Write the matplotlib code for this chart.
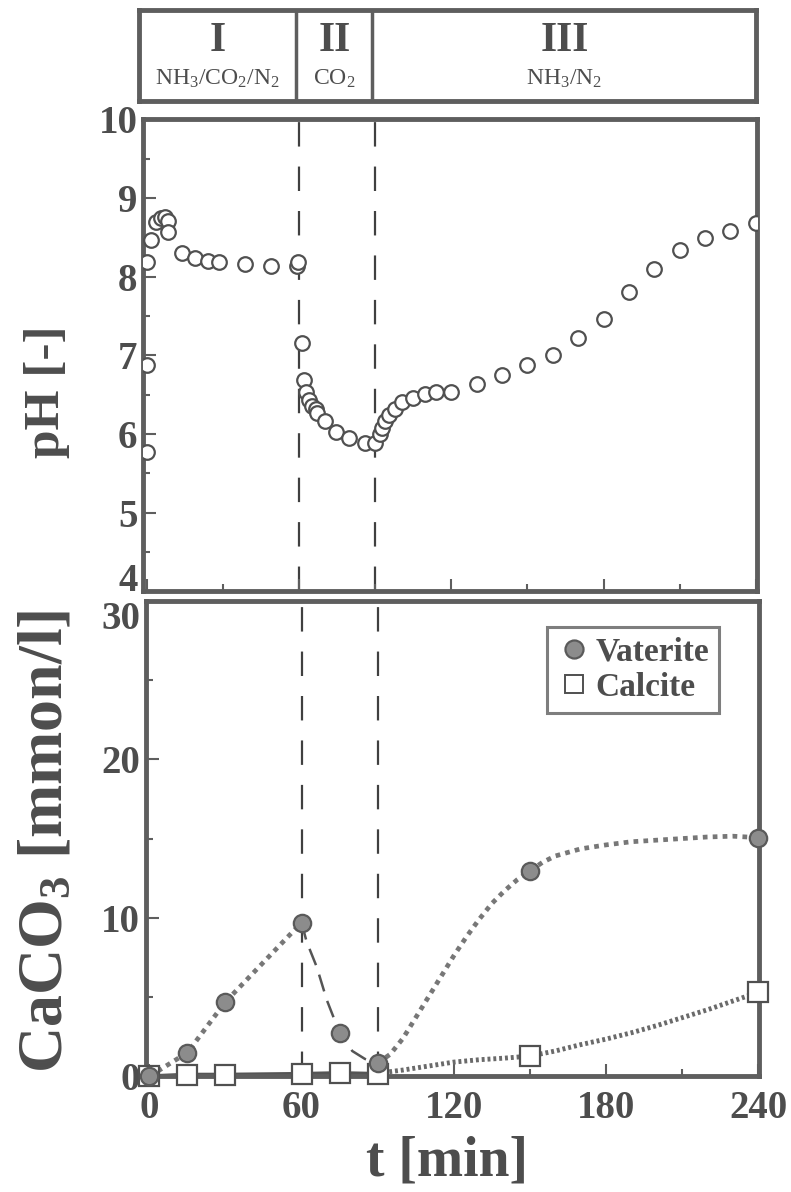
import numpy as np
import matplotlib
matplotlib.use("Agg")
import matplotlib.pyplot as plt
from matplotlib.ticker import MultipleLocator
from matplotlib.lines import Line2D

# ── Data ──────────────────────────────────────────────────────────────────────

# pH time course
ph_t = [0, 0, 0, 1.5, 3.5, 5.5, 7, 8.3, 8.3, 14, 19, 24, 28.5, 38.5, 49, 59, 59.5,
        61, 62, 62.8, 64, 65.2, 66.8, 67.2, 70, 74.7, 79.8, 85.8, 90,
        91.7, 92.5, 93.7, 95.6, 97.6, 100.4, 104.7, 109.5, 114, 120,
        130, 140, 150, 160, 170, 180, 190, 200, 210, 220, 230, 240]
ph_val = [5.77, 6.87, 8.18, 8.47, 8.69, 8.75, 8.76, 8.70, 8.57, 8.30, 8.24, 8.20, 8.19, 8.16, 8.14, 8.13, 8.19,
          7.15, 6.68, 6.53, 6.43, 6.36, 6.32, 6.26, 6.17, 6.02, 5.95, 5.89, 5.89,
          6.00, 6.08, 6.17, 6.24, 6.32, 6.40, 6.46, 6.51, 6.53, 6.53,
          6.63, 6.75, 6.88, 7.00, 7.22, 7.46, 7.80, 8.09, 8.34, 8.49, 8.58, 8.68]

# CaCO3 measurements [mmol/l]
cc_t      = [0, 15, 30, 60, 75, 90, 150, 240]
vaterite  = [0.0, 1.5, 4.7, 9.7, 2.75, 0.83, 12.95, 15.06]
calcite   = [0.0, 0.1, 0.1, 0.15, 0.2, 0.15, 1.28, 5.3]

# guide curves
vat1_t = [0, 15, 30, 60]
vat1_v = [0.0, 1.5, 4.7, 9.7]
vat2_t = [60, 62, 66, 70, 75, 80, 85, 90]
vat2_v = [9.7, 8.5, 6.9, 4.8, 2.75, 1.6, 1.1, 0.83]
vat3_t = [90, 95, 100, 105, 110, 115, 120, 125, 130, 135, 140, 145, 150,
          155, 160, 170, 180, 190, 200, 210, 220, 230, 240]
vat3_v = [0.83, 1.4, 2.4, 3.7, 5.0, 6.3, 7.6, 8.8, 9.9, 10.9, 11.7, 12.4, 12.95,
          13.5, 13.9, 14.35, 14.6, 14.8, 14.9, 15.0, 15.1, 15.15, 15.06]
cal1_t = [0, 15, 30, 60, 75, 90]
cal1_v = [0.0, 0.1, 0.1, 0.15, 0.2, 0.15]
cal2_t = [90, 100, 110, 120, 130, 140, 150, 160, 170, 180, 190, 200, 210, 220, 230, 240]
cal2_v = [0.2, 0.4, 0.65, 0.9, 1.05, 1.15, 1.28, 1.6, 2.0, 2.35, 2.75, 3.2, 3.7, 4.2, 4.75, 5.3]

phase_edges = [60, 90]
phase_roman = ['I', 'II', 'III']
phase_gas   = ['NH$_3$/CO$_2$/N$_2$', 'CO$_2$', 'NH$_3$/N$_2$']

# ── Style ─────────────────────────────────────────────────────────────────────

plt.rcParams['font.family'] = ['Liberation Serif', 'DejaVu Serif']
plt.rcParams['mathtext.fontset'] = 'custom'
plt.rcParams['mathtext.rm'] = 'Liberation Serif'
plt.rcParams['mathtext.bf'] = 'Liberation Serif:bold'
plt.rcParams['mathtext.it'] = 'Liberation Serif:italic'

INK   = '#4d4d4d'
SPINE = '#5e5e5e'
XLIM  = (-1.5, 240.5)

fig = plt.figure(figsize=(7.91, 11.92), dpi=100)

ax_band = fig.add_axes([0.176, 0.915, 0.780, 0.077])
ax_ph   = fig.add_axes([0.181, 0.504, 0.776, 0.396])
ax_cc   = fig.add_axes([0.184, 0.097, 0.776, 0.399])


def style_axes(ax):
    for s in ax.spines.values():
        s.set_linewidth(3.5)
        s.set_color(SPINE)
    ax.tick_params(which='both', direction='in', color=SPINE, width=1.5,
                   labelsize=28, labelcolor=INK, top=False, right=False)
    ax.tick_params(which='major', length=9)
    ax.tick_params(which='minor', length=5)
    for lab in ax.get_xticklabels() + ax.get_yticklabels():
        lab.set_fontweight('bold')


# ── Phase band ────────────────────────────────────────────────────────────────

ax_band.set_xlim(*XLIM)
ax_band.set_ylim(0, 1)
ax_band.set_xticks([])
ax_band.set_yticks([])
for s in ax_band.spines.values():
    s.set_linewidth(3.5)
    s.set_color(SPINE)
for e in phase_edges:
    ax_band.axvline(e, color=SPINE, lw=2.5)
bounds = [XLIM[0]] + phase_edges + [XLIM[1]]
for i in range(3):
    xc = (bounds[i] + bounds[i + 1]) / 2
    ax_band.text(xc, 0.66, phase_roman[i], ha='center', va='center',
                 fontsize=30, fontweight='bold', color=INK)
    ax_band.text(xc, 0.25, phase_gas[i], ha='center', va='center',
                 fontsize=17, color=INK)

# ── pH panel ──────────────────────────────────────────────────────────────────

ax_ph.plot(ph_t, ph_val, 'o', ms=10.5, mfc='white', mec='#505050', mew=1.6,
           ls='none', zorder=3)
for e in phase_edges:
    ax_ph.axvline(e, color='#404040', lw=1.6, dashes=(11, 9), zorder=1)
ax_ph.set_xlim(*XLIM)
ax_ph.set_ylim(4, 10)
ax_ph.set_yticks([4, 5, 6, 7, 8, 9, 10])
ax_ph.yaxis.set_minor_locator(MultipleLocator(0.5))
ax_ph.xaxis.set_major_locator(MultipleLocator(60))
ax_ph.xaxis.set_minor_locator(MultipleLocator(30))
style_axes(ax_ph)
ax_ph.tick_params(axis='x', labelbottom=False)
ax_ph.tick_params(axis='y', pad=4)

# ── CaCO3 panel ───────────────────────────────────────────────────────────────

ax_cc.plot(vat1_t, vat1_v, color='#777777', lw=3.4, ls=(0, (1, 1.1)), zorder=2)
ax_cc.plot(vat2_t, vat2_v, color='#555555', lw=1.8, ls=(0, (7, 4)), zorder=2)
ax_cc.plot(vat3_t, vat3_v, color='#777777', lw=3.4, ls=(0, (1, 1.1)), zorder=2)
ax_cc.plot(cal1_t, cal1_v, color='#555555', lw=3, zorder=2)
ax_cc.plot(cal2_t, cal2_v, color='#6a6a6a', lw=3.5, ls=(0, (0.6, 0.6)), zorder=2)
for e in phase_edges:
    ax_cc.axvline(e, color='#404040', lw=1.6, dashes=(11, 9), zorder=1)

ax_cc.plot(cc_t, calcite, 's', ms=14, mfc='white', mec='#505050', mew=1.6,
           ls='none', zorder=3, clip_on=False)
ax_cc.plot(cc_t, vaterite, 'o', ms=12.5, mfc='#8c8c8c', mec='#5a5a5a', mew=1.6,
           ls='none', zorder=4, clip_on=False)

ax_cc.set_xlim(*XLIM)
ax_cc.set_ylim(0, 30)
ax_cc.set_yticks([0, 10, 20, 30])
ax_cc.yaxis.set_minor_locator(MultipleLocator(5))
ax_cc.xaxis.set_major_locator(MultipleLocator(60))
ax_cc.xaxis.set_minor_locator(MultipleLocator(30))
style_axes(ax_cc)
ax_cc.tick_params(axis='y', pad=4)
ax_cc.tick_params(axis='x', pad=10)

# keep "4" (pH) and "30" (CaCO3) apart where the two panels meet
ax_ph.yaxis.get_major_ticks()[0].label1.set_va('baseline')
ax_cc.yaxis.get_major_ticks()[-1].label1.set_va('top')

# axis titles placed on the figure
fig.text(0.060, 0.671, 'pH [-]', rotation=90, ha='center', va='center',
         fontsize=37, fontweight='bold', color=INK)
fig.text(0.060, 0.294, r'CaCO$_\mathbf{3}$ [mmon/l]', rotation=90,
         ha='center', va='center', fontsize=46, fontweight='bold', color=INK)
fig.text(0.565, 0.026, 't [min]', ha='center', va='center',
         fontsize=40, fontweight='bold', color=INK)

handles = [
    Line2D([], [], marker='o', ls='none', ms=13, mfc='#8c8c8c', mec='#5a5a5a', mew=1.6),
    Line2D([], [], marker='s', ls='none', ms=13, mfc='white', mec='#505050', mew=1.4),
]
leg = ax_cc.legend(handles, ['Vaterite', 'Calcite'], loc='upper right',
                   bbox_to_anchor=(0.935, 0.945), frameon=True, fancybox=False,
                   prop={'family': 'Liberation Serif', 'weight': 'bold', 'size': 24},
                   handletextpad=0.15, handlelength=1.0, borderpad=0.3,
                   labelspacing=0.12, borderaxespad=0)
leg.get_frame().set_edgecolor(SPINE)
leg.get_frame().set_linewidth(2.2)
for t in leg.get_texts():
    t.set_color(INK)

fig.savefig('out.png', dpi=100)
